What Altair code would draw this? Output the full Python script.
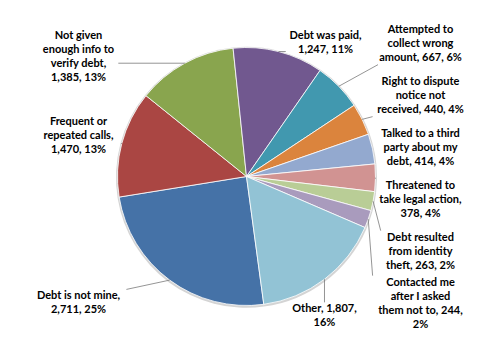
import math
import altair as alt
import pandas as pd

# ---- data ----
categories = [
    "Debt is not mine", "Frequent or repeated calls", "Not given enough info to verify debt",
    "Debt was paid", "Attempted to collect wrong amount", "Right to dispute notice not received",
    "Talked to a third party about my debt", "Threatened to take legal action",
    "Debt resulted from identity theft", "Contacted me after I asked them not to", "Other",
]
values = [2711, 1470, 1385, 1247, 667, 440, 414, 378, 263, 244, 1807]
labels = [
    "Debt is not mine,\n2,711, 25%",
    "Frequent or\nrepeated calls,\n1,470, 13%",
    "Not given\nenough info to\nverify debt,\n1,385, 13%",
    "Debt was paid,\n1,247, 11%",
    "Attempted to\ncollect wrong\namount, 667, 6%",
    "Right to dispute\nnotice not\nreceived, 440, 4%",
    "Talked to a third\nparty about my\ndebt, 414, 4%",
    "Threatened to\ntake legal action,\n378, 4%",
    "Debt resulted\nfrom identity\ntheft, 263, 2%",
    "Contacted me\nafter I asked\nthem not to, 244,\n2%",
    "Other, 1,807,\n16%",
]
colors = ["#4572A7", "#AA4643", "#89A54E", "#71588F", "#4198AF", "#DB843D",
          "#93A9CF", "#D19392", "#B9CD96", "#A99BBD", "#92C3D5"]

# ---- layout parameters ----
W, H = 493, 353
CX, CY = W / 2, H / 2          # pie centre
R = 129                        # pie radius
A0 = math.radians(172.3)       # angle of first slice (clockwise from 12 o'clock)
RL = 158                       # radius of label anchor
RY = 190                       # radius for right column initial positions
COL_R, COL_L = 174, -168       # column offsets from centre
SPACE = 52                     # min spacing in the right column
TOP = 29                       # top limit for label boxes
CW, LH = 5.4, 14               # estimated char width / line height

df = pd.DataFrame({
    "category": categories,
    "value": values,
    "label": labels,
    "idx": list(range(len(values))),
})
df["nlines"] = [len(t.split("\n")) for t in labels]
df["maxch"] = [max(len(s) for s in t.split("\n")) for t in labels]

base = alt.Chart(df)

color = alt.Color("category:N", scale=alt.Scale(domain=categories, range=colors), legend=None)
theta = alt.Theta("value:Q", stack=True, scale=alt.Scale(range=[A0, A0 + 2 * math.pi]))
order = alt.Order("idx:Q")

rim = base.mark_arc(radius=R + 1.5, color="#d4d4d4").encode(
    theta=theta, order=order, x=alt.value(CX), y=alt.value(CY + 0.8))

pie = base.mark_arc(radius=R, stroke="#ffffff", strokeWidth=0.8).encode(
    theta=theta, color=color, order=order, x=alt.value(CX), y=alt.value(CY))

lab = (
    base.transform_joinaggregate(total="sum(value)")
    .transform_window(cum="sum(value)", sort=[alt.SortField("idx")], frame=[None, 0])
    .transform_calculate(
        mid=f"{A0} + 2*PI*(datum.cum - datum.value/2)/datum.total",
    )
    .transform_calculate(s="sin(datum.mid)", c="cos(datum.mid)")
    .transform_calculate(
        px=f"{CX} + {R}*datum.s", py=f"{CY} - {R}*datum.c",
        qx=f"{CX} + {RL}*datum.s", qy=f"{CY} - {RL}*datum.c",
        w=f"datum.maxch*{CW} + 4", h=f"datum.nlines*{LH}",
        grp="datum.s < 0 ? 'L' : (datum.s >= 0.7 ? 'C' : (datum.c > 0 ? 'T' : 'B'))",
        y0=f"{CY} - {RY}*datum.c",
    )
    .transform_window(k="row_number()", groupby=["grp"], sort=[alt.SortField("idx")])
    .transform_calculate(z=f"datum.y0 - (datum.k-1)*{SPACE}")
    .transform_window(cm="max(z)", groupby=["grp"], sort=[alt.SortField("idx")], frame=[None, 0])
    .transform_calculate(
        lx=(f"datum.grp=='L' ? {CX + COL_L} : datum.grp=='C' ? {CX + COL_R} : "
            f"datum.grp=='T' ? datum.qx + datum.w/2 : datum.px"),
        ly=(f"datum.grp=='C' ? (datum.k-1)*{SPACE} + datum.cm : "
            f"datum.grp=='B' ? datum.qy + datum.h/2 : max(datum.qy, {TOP} + datum.h/2)"),
    )
    .transform_calculate(
        ex="clamp(datum.px, datum.lx - datum.w/2, datum.lx + datum.w/2)",
        ey="clamp(datum.py, datum.ly - datum.h/2, datum.ly + datum.h/2)",
        ty=f"datum.ly - (datum.nlines - 1)*{LH}/2",
    )
)

leaders = lab.mark_rule(color="#7a7a7a", strokeWidth=0.8).encode(
    x=alt.X("px:Q", scale=None), y=alt.Y("py:Q", scale=None),
    x2="ex:Q", y2="ey:Q",
)

texts = lab.mark_text(
    lineBreak="\n", align="center", baseline="middle", font="Lato",
    fontWeight="bold", fontSize=11, lineHeight=LH, color="#000000",
).encode(
    x=alt.X("lx:Q", scale=None), y=alt.Y("ty:Q", scale=None), text="label:N",
)

chart = alt.layer(rim, pie, leaders, texts).properties(
    width=W, height=H, autosize=alt.AutoSizeParams(type="none"), padding=0,
    background="#ffffff",
).configure_view(stroke=None)

chart.save("out.html", embed_options={"renderer": "svg", "actions": False})
